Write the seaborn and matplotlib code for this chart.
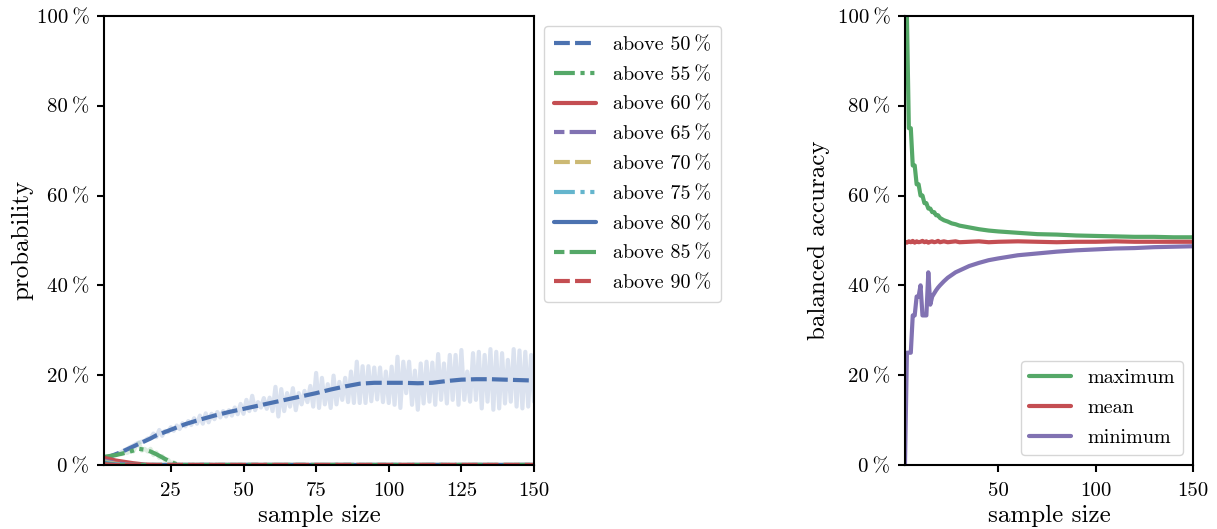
import matplotlib
matplotlib.use("Agg")
import matplotlib.pyplot as plt
import seaborn as sns

# ---------------- data ----------------
# left panel: sample sizes for smoothed curves
size_grid = [2, 4, 6, 8, 10, 12, 14, 16, 18, 20, 22, 24, 26, 28, 30,
             35, 40, 45, 50, 55, 60, 65, 70, 75, 80, 85, 90, 95, 100,
             105, 110, 115, 120, 125, 130, 135, 140, 145, 150]

above50 = [1.5, 1.9, 2.4, 2.9, 3.5, 4.1, 4.7, 5.3, 5.9, 6.6, 7.1, 7.6, 8.1, 8.6, 9.1,
           10.1, 11.0, 11.8, 12.5, 13.2, 13.9, 14.6, 15.3, 16.0, 16.8, 17.5, 18.1, 18.3, 18.3,
           18.3, 18.2, 18.3, 18.7, 19.0, 19.1, 19.1, 19.0, 18.9, 18.8]
above55 = [1.8, 2.0, 2.2, 2.5, 2.8, 3.2, 3.6, 3.4, 3.0, 2.4, 1.7, 1.0, 0.4, 0.0, 0.0] + [0.0] * 24
above60 = [1.6, 1.3, 1.0, 0.8, 0.6, 0.4, 0.25, 0.1, 0.05, 0.0, 0.0, 0.0, 0.0, 0.0, 0.0] + [0.0] * 24
above65 = [1.0, 0.7, 0.45, 0.25, 0.1, 0.0, 0.0, 0.0, 0.0, 0.0, 0.0, 0.0, 0.0, 0.0, 0.0] + [0.0] * 24
above70 = [0.8, 0.5, 0.3, 0.15, 0.0, 0.0, 0.0, 0.0, 0.0, 0.0, 0.0, 0.0, 0.0, 0.0, 0.0] + [0.0] * 24
above75 = [0.6, 0.35, 0.15, 0.05, 0.0, 0.0, 0.0, 0.0, 0.0, 0.0, 0.0, 0.0, 0.0, 0.0, 0.0] + [0.0] * 24
above80 = [0.4, 0.2, 0.05, 0.0, 0.0, 0.0, 0.0, 0.0, 0.0, 0.0, 0.0, 0.0, 0.0, 0.0, 0.0] + [0.0] * 24
above85 = [0.3, 0.1, 0.0, 0.0, 0.0, 0.0, 0.0, 0.0, 0.0, 0.0, 0.0, 0.0, 0.0, 0.0, 0.0] + [0.0] * 24
above90 = [0.2, 0.05, 0.0, 0.0, 0.0, 0.0, 0.0, 0.0, 0.0, 0.0, 0.0, 0.0, 0.0, 0.0, 0.0] + [0.0] * 24

thresholds = ["50", "55", "60", "65", "70", "75", "80", "85", "90"]

# raw (unsmoothed) probabilities, one value per sample size 2..150
raw_sizes = list(range(2, 151))
above50_raw = [
    1.5, 1.6, 1.8, 2.0, 2.3, 2.6, 2.9, 3.3, 3.6, 4.0,
    4.3, 4.7, 5.0, 5.2, 5.4, 5.9, 6.0, 7.0, 6.2, 7.8,
    6.5, 7.6, 7.3, 8.4, 7.6, 8.8, 8.0, 9.3, 8.6, 9.8,
    8.9, 10.4, 9.2, 11.0, 9.2, 11.5, 9.5, 11.4, 10.2, 11.8,
    10.6, 12.0, 10.8, 12.2, 11.0, 12.8, 11.3, 13.6, 11.4, 14.5,
    12.0, 15.4, 12.2, 14.0, 12.8, 14.9, 12.5, 15.0, 12.0, 17.4,
    10.8, 16.9, 12.0, 16.0, 13.0, 17.1, 12.2, 16.0, 13.5, 16.5,
    14.0, 17.6, 13.0, 20.5, 12.7, 19.4, 13.5, 18.0, 12.7, 19.9,
    13.5, 18.5, 14.5, 19.4, 14.0, 20.8, 13.8, 23.0, 13.8, 22.0,
    13.8, 22.0, 14.2, 21.7, 14.6, 21.7, 14.0, 20.8, 13.8, 21.9,
    13.4, 24.1, 12.7, 23.0, 16.0, 23.0, 13.4, 21.0, 12.3, 22.6,
    13.7, 23.0, 14.1, 22.8, 13.4, 24.7, 14.5, 22.6, 13.7, 24.5,
    14.5, 24.5, 13.4, 25.6, 14.5, 20.8, 14.1, 24.9, 14.5, 25.2,
    12.6, 24.5, 14.1, 25.8, 12.3, 25.2, 12.6, 24.9, 13.7, 23.4,
    14.1, 25.8, 13.0, 25.5, 12.6, 25.2, 13.0, 24.5, 14.1]
above55_raw = [
    1.8, 1.9, 2.0, 2.2, 2.2, 2.5, 2.4, 2.8, 2.7, 3.2,
    3.0, 4.2, 4.9, 3.2, 3.6, 3.0, 3.6, 2.2, 2.8, 1.6,
    2.0, 1.0, 1.2, 0.4, 0.6, 0.1] + [0.0] * 123

y_ticks = [0, 20, 40, 60, 80, 100]
y_tick_labels = ["0\u2009%", "20\u2009%", "40\u2009%", "60\u2009%", "80\u2009%", "100\u2009%"]
left_x_ticks = [25, 50, 75, 100, 125, 150]
right_x_ticks = [50, 100, 150]

# right panel: balanced accuracy
acc_sizes = [2, 3, 4, 5, 6, 7, 8, 9, 10, 11, 12, 13, 14, 15, 16, 17, 18, 19, 20,
             22, 24, 26, 28, 30, 35, 40, 45, 50, 60, 70, 80, 90, 100, 110, 120, 130, 140, 150]
acc_max = [100, 100, 75, 75, 66.7, 66.7, 62.5, 62.5, 60, 60, 58.3, 58.3, 57.1, 57.1,
           56.3, 56.3, 55.6, 55.6, 55.0,
           54.5, 54.2, 53.8, 53.6, 53.3, 52.9, 52.5, 52.2, 52.0, 51.7, 51.4, 51.3, 51.1,
           51.0, 50.9, 50.8, 50.8, 50.7, 50.7]
acc_mean = [49.7, 49.5, 49.8, 49.6, 49.9, 49.5, 49.8, 49.6, 49.7, 49.9, 49.6, 49.8, 49.5,
            49.7, 49.8, 49.6, 49.7, 49.9, 49.6,
            49.8, 49.6, 49.7, 49.8, 49.6, 49.7, 49.8, 49.6, 49.7, 49.8, 49.7, 49.6, 49.7,
            49.7, 49.8, 49.7, 49.7, 49.7, 49.7]
acc_min = [0, 25, 25, 25, 33.3, 33.3, 37.5, 37.5, 40.0, 33.3, 33.3, 33.3, 42.9, 35.7,
           37.5, 38.2, 38.9, 39.5, 40.0,
           40.9, 41.7, 42.3, 42.9, 43.3, 44.3, 45.0, 45.6, 46.0, 46.7, 47.1, 47.5, 47.8,
           48.0, 48.2, 48.3, 48.5, 48.6, 48.7]
acc_labels = ["maximum", "mean", "minimum"]

# ---------------- style ----------------
sns.set_theme(style="ticks")
deep6 = ["#4C72B0", "#55A868", "#C44E52", "#8172B2", "#CCB974", "#64B5CD"]
plt.rcParams.update({
    "axes.edgecolor": "black",
    "axes.linewidth": 1.5,
    "xtick.color": "black",
    "ytick.color": "black",
    "xtick.major.size": 5,
    "ytick.major.size": 5,
    "xtick.major.width": 1.5,
    "ytick.major.width": 1.5,
    "xtick.major.pad": 7.5,
    "ytick.major.pad": 5.5,
    "xtick.direction": "out",
    "ytick.direction": "out",
    "mathtext.fontset": "cm",
    "axes.formatter.use_mathtext": True,
    "text.color": "black",
    "axes.labelcolor": "black",
})
plt.rcParams["font.family"] = ["cmr10", "DejaVu Serif"]

linestyles = [(0, (3.8, 1.25)), (0, (5.0, 1.35, 1.0, 1.35, 1.0, 1.35)), "-",
              (0, (2.5, 1.25, 6.5, 1.25))]
LW = 3.0
TICK_FS = 15
LABEL_FS = 18
LEGEND_FS = 14.5

fig = plt.figure(figsize=(12.17, 5.29), dpi=100)
ax1 = fig.add_axes([0.0855, 0.121, 0.3533, 0.849])
ax2 = fig.add_axes([0.7436, 0.121, 0.2367, 0.849])

# ---------- left panel ----------
sns.lineplot(x=raw_sizes, y=above50_raw, ax=ax1, color=deep6[0], alpha=0.2,
             linewidth=LW, errorbar=None)
sns.lineplot(x=raw_sizes, y=above55_raw, ax=ax1, color=deep6[1], alpha=0.2,
             linewidth=LW, errorbar=None)

series = [above50, above55, above60, above65, above70, above75, above80, above85, above90]
for i, (vals, thr) in enumerate(zip(series, thresholds)):
    sns.lineplot(x=size_grid, y=vals, ax=ax1, color=deep6[i % 6],
                 linestyle=linestyles[i % 4], linewidth=LW, errorbar=None,
                 label=f"above {thr}\u2009%")

ax1.set_xlim(2, 150)
ax1.set_ylim(0, 100)
ax1.set_xticks(left_x_ticks)
ax1.set_xticklabels([str(t) for t in left_x_ticks], fontsize=TICK_FS)
ax1.set_yticks(y_ticks)
ax1.set_yticklabels(y_tick_labels, fontsize=TICK_FS)
ax1.set_xlabel("sample size", fontsize=LABEL_FS)
ax1.set_ylabel("probability", fontsize=LABEL_FS)
ax1.xaxis.set_label_coords(0.5, -0.088)
ax1.yaxis.set_label_coords(-0.165, 0.5)
ax1.legend(loc="upper left", bbox_to_anchor=(1.0, 1.0), fontsize=LEGEND_FS,
           handlelength=2.1, labelspacing=0.58, borderpad=0.5, frameon=True)

# ---------- right panel ----------
acc_series = [acc_max, acc_mean, acc_min]
acc_colors = [deep6[1], deep6[2], deep6[3]]
for vals, lab, col in zip(acc_series, acc_labels, acc_colors):
    sns.lineplot(x=acc_sizes, y=vals, ax=ax2, color=col, linewidth=LW,
                 errorbar=None, label=lab)

ax2.set_xlim(2, 150)
ax2.set_ylim(0, 100)
ax2.set_xticks(right_x_ticks)
ax2.set_xticklabels([str(t) for t in right_x_ticks], fontsize=TICK_FS)
ax2.set_yticks(y_ticks)
ax2.set_yticklabels(y_tick_labels, fontsize=TICK_FS)
ax2.set_xlabel("sample size", fontsize=LABEL_FS)
ax2.set_ylabel("balanced accuracy", fontsize=LABEL_FS)
ax2.xaxis.set_label_coords(0.5, -0.088)
ax2.yaxis.set_label_coords(-0.26, 0.5)
ax2.legend(loc="lower right", fontsize=LEGEND_FS, handlelength=2.1,
           labelspacing=0.58, frameon=True)

for ax in (ax1, ax2):
    for sp in ax.spines.values():
        sp.set_visible(True)
        sp.set_color("black")

fig.savefig("out.png", dpi=100)
